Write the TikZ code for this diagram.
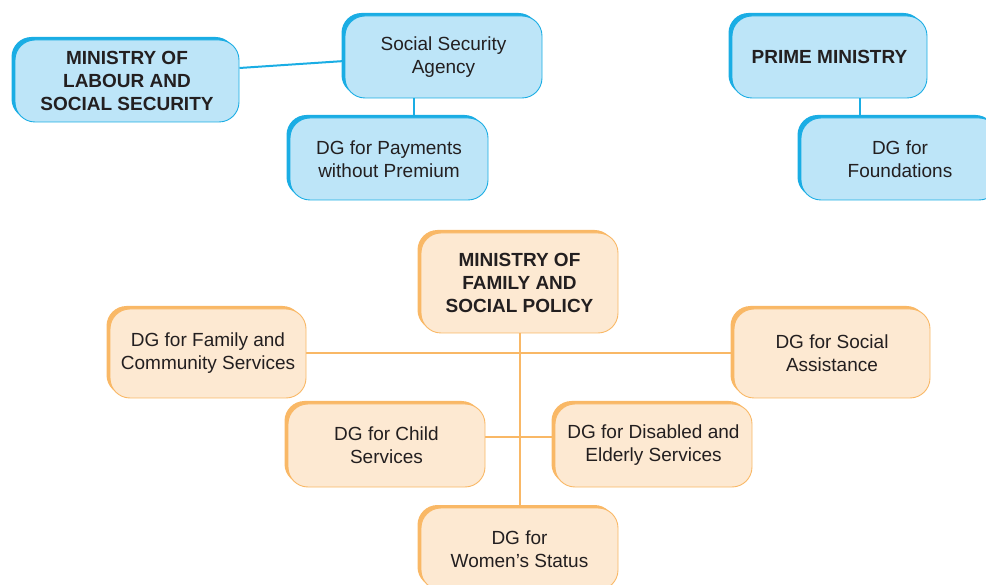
\documentclass[tikz,border=0pt]{standalone}
\usepackage{fontspec}
\setmainfont{Liberation Sans}
\usetikzlibrary{shadows,backgrounds}
\definecolor{bfill}{HTML}{BDE5F8}
\definecolor{bline}{HTML}{1AADE4}
\definecolor{ofill}{HTML}{FDE9D2}
\definecolor{oline}{HTML}{F9B866}
\definecolor{txt}{HTML}{231F20}
\tikzset{
  box/.style={rounded corners=20pt, align=center, text=txt, inner sep=0pt,
    font=\fontsize{19pt}{23pt}\selectfont, line width=0.9pt},
  bluebox/.style={box, fill=bfill, draw=bline,
    general shadow={fill=bline, shadow xshift=-3.5pt, shadow yshift=3pt}},
  orangebox/.style={box, fill=ofill, draw=oline,
    general shadow={fill=oline, shadow xshift=-3.5pt, shadow yshift=3pt}},
  bold/.style={font=\fontsize{19pt}{23pt}\selectfont\bfseries},
  bconn/.style={draw=bline, line width=2pt},
  oconn/.style={draw=oline, line width=2pt},
}
\begin{document}
\begin{tikzpicture}[x=1pt,y=-1pt]
\useasboundingbox (0,0) rectangle (986,585);
\node[bluebox, bold, minimum width=224pt, minimum height=82pt] (lab) at (127,81) {MINISTRY OF\\LABOUR AND\\SOCIAL SECURITY};
\node[bluebox, minimum width=197pt, minimum height=82pt] (ssa) at (443.5,57) {Social Security\\Agency};
\node[bluebox, minimum width=198pt, minimum height=82pt] (pay) at (389,159) {DG for Payments\\without Premium};
\node[bluebox, bold, minimum width=195pt, minimum height=82pt] (pm) at (829.5,57) {PRIME MINISTRY};
\node[bluebox, minimum width=198pt, minimum height=82pt] (fnd) at (900,159) {DG for\\Foundations};
\node[orangebox, bold, minimum width=197pt, minimum height=100pt] (fam) at (519.5,283) {MINISTRY OF\\FAMILY AND\\SOCIAL POLICY};
\node[orangebox, minimum width=196pt, minimum height=89pt] (dfc) at (208,353.5) {DG for Family and\\Community Services};
\node[orangebox, minimum width=196pt, minimum height=89pt] (dsa) at (832,353.5) {DG for Social\\Assistance};
\node[orangebox, minimum width=197pt, minimum height=83pt] (dch) at (386.5,445.5) {DG for Child\\Services};
\node[orangebox, minimum width=197pt, minimum height=83pt] (ddis) at (653.5,445.5) {DG for Disabled and\\Elderly Services};
\node[orangebox, minimum width=197pt, minimum height=82pt] (dws) at (519.5,549) {DG for\\Women’s Status};
\begin{scope}[on background layer]
\draw[bconn] ([yshift=13pt]lab.east) -- ([yshift=-4pt]ssa.west);
\draw[bconn] ([xshift=-29.5pt]ssa.south) -- ([xshift=25pt]pay.north);
\draw[bconn] ([xshift=30.5pt]pm.south) -- ([xshift=-40pt]fnd.north);
\draw[oconn] (fam.south) -- (dws.north);
\draw[oconn] (dfc.east) -- (dsa.west);
\draw[oconn] ([yshift=8pt]dch.east) -- ([yshift=8pt]ddis.west);
\end{scope}
\end{tikzpicture}
\end{document}
